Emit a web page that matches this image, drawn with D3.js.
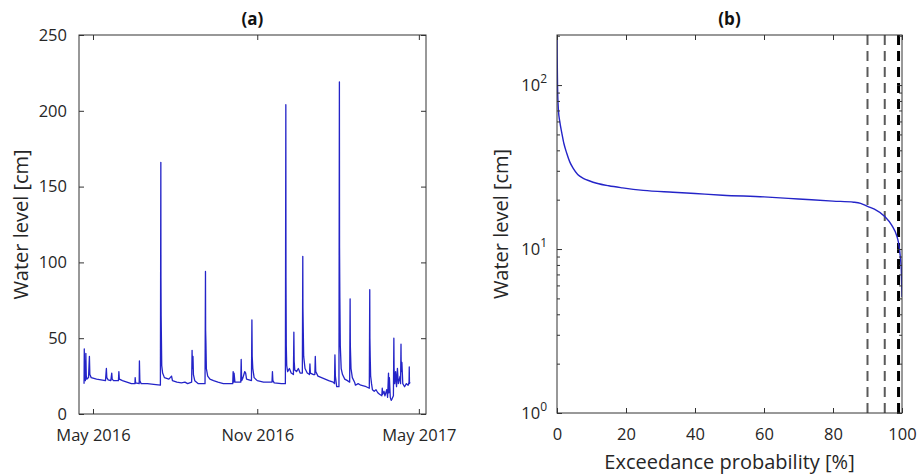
<!DOCTYPE html>
<html>
<head>
<meta charset="utf-8">
<script src="https://cdn.jsdelivr.net/npm/d3@7"></script>
<style>
  html, body { margin: 0; padding: 0; background: #fff; }
  svg { display: block; font-family: "Open Sans", sans-serif; }
</style>
</head>
<body>
<svg id="chart" width="920" height="476"></svg>
<script>
// ---------------- data ----------------
const panelTitles = ["(a)", "(b)"];
const yLabel = "Water level [cm]";
const xLabelB = "Exceedance probability [%]";

// (a) water level time series [time, cm]
const levelSeries = [
  ["2016-04-21 00", 20], ["2016-04-21 06", 43], ["2016-04-21 12", 24], ["2016-04-22 00", 35],
  ["2016-04-22 12", 22], ["2016-04-23 00", 40], ["2016-04-23 12", 25], ["2016-04-24 00", 23],
  ["2016-04-26 00", 24], ["2016-04-27 00", 38], ["2016-04-27 12", 26], ["2016-04-29 00", 24],
  ["2016-05-05 00", 23], ["2016-05-10 00", 22.5], ["2016-05-15 00", 22], ["2016-05-16 00", 30],
  ["2016-05-16 12", 24], ["2016-05-18 00", 22.5], ["2016-05-21 00", 22], ["2016-05-22 00", 27],
  ["2016-05-22 12", 23], ["2016-05-24 00", 22], ["2016-05-29 12", 22], ["2016-05-30 00", 28],
  ["2016-05-30 12", 23], ["2016-06-03 00", 22], ["2016-06-08 00", 21], ["2016-06-13 00", 20],
  ["2016-06-17 00", 20], ["2016-06-17 06", 24], ["2016-06-17 18", 20.5], ["2016-06-21 18", 20],
  ["2016-06-22 00", 35], ["2016-06-22 12", 22], ["2016-06-24 00", 20], ["2016-07-01 00", 20],
  ["2016-07-08 00", 19.5], ["2016-07-15 12", 19], ["2016-07-16 00", 166], ["2016-07-16 03", 90],
  ["2016-07-16 08", 65], ["2016-07-17 00", 32], ["2016-07-18 00", 27], ["2016-07-20 00", 24],
  ["2016-07-25 00", 23], ["2016-07-28 00", 25], ["2016-07-29 00", 22], ["2016-08-03 00", 21],
  ["2016-08-08 00", 20.5], ["2016-08-12 00", 21], ["2016-08-15 00", 20], ["2016-08-19 12", 21],
  ["2016-08-20 00", 42], ["2016-08-20 08", 30], ["2016-08-21 00", 38], ["2016-08-21 12", 26],
  ["2016-08-23 00", 22], ["2016-08-27 00", 20], ["2016-09-03 12", 20], ["2016-09-04 00", 94],
  ["2016-09-04 04", 55], ["2016-09-04 12", 47], ["2016-09-05 00", 30], ["2016-09-06 12", 25],
  ["2016-09-09 00", 23], ["2016-09-13 00", 22], ["2016-09-18 00", 21], ["2016-09-24 00", 20],
  ["2016-10-04 12", 20], ["2016-10-05 00", 28], ["2016-10-05 12", 21], ["2016-10-06 00", 27],
  ["2016-10-07 00", 21], ["2016-10-13 12", 21], ["2016-10-14 00", 36], ["2016-10-14 12", 22],
  ["2016-10-16 00", 24], ["2016-10-18 00", 28], ["2016-10-19 00", 27], ["2016-10-20 00", 23],
  ["2016-10-25 12", 22], ["2016-10-26 00", 62], ["2016-10-26 08", 38], ["2016-10-27 00", 30],
  ["2016-10-28 12", 24], ["2016-11-01 00", 22], ["2016-11-08 00", 21], ["2016-11-17 12", 21],
  ["2016-11-18 00", 28], ["2016-11-18 12", 22], ["2016-11-20 00", 20.5], ["2016-11-28 00", 20],
  ["2016-12-02 12", 20], ["2016-12-03 00", 204], ["2016-12-03 04", 90], ["2016-12-03 12", 45],
  ["2016-12-04 00", 32], ["2016-12-05 00", 28], ["2016-12-07 00", 30], ["2016-12-09 00", 27],
  ["2016-12-11 12", 26], ["2016-12-12 00", 54], ["2016-12-12 08", 35], ["2016-12-13 00", 29],
  ["2016-12-15 00", 28], ["2016-12-17 00", 30], ["2016-12-19 00", 27], ["2016-12-21 12", 27],
  ["2016-12-22 00", 104], ["2016-12-22 04", 70], ["2016-12-22 12", 56], ["2016-12-23 00", 38],
  ["2016-12-24 12", 30], ["2016-12-27 00", 27], ["2016-12-29 12", 26], ["2016-12-30 00", 33],
  ["2016-12-30 12", 27], ["2017-01-03 00", 26], ["2017-01-04 12", 26], ["2017-01-05 00", 38],
  ["2017-01-05 12", 28], ["2017-01-08 00", 25], ["2017-01-12 00", 24], ["2017-01-16 00", 23],
  ["2017-01-20 00", 22], ["2017-01-25 00", 21], ["2017-01-26 12", 20], ["2017-01-27 00", 39],
  ["2017-01-27 12", 25], ["2017-01-29 00", 18], ["2017-01-31 12", 18], ["2017-02-01 00", 219],
  ["2017-02-01 04", 110], ["2017-02-01 12", 77], ["2017-02-02 00", 45], ["2017-02-03 00", 30],
  ["2017-02-04 12", 26], ["2017-02-07 00", 23], ["2017-02-10 00", 22], ["2017-02-12 12", 21],
  ["2017-02-13 00", 76], ["2017-02-13 06", 45], ["2017-02-14 00", 30], ["2017-02-15 12", 24],
  ["2017-02-18 00", 21], ["2017-02-19 00", 19], ["2017-02-22 00", 20], ["2017-02-25 00", 19],
  ["2017-02-28 00", 18.5], ["2017-03-03 00", 18], ["2017-03-06 12", 17], ["2017-03-07 00", 82],
  ["2017-03-07 04", 50], ["2017-03-07 12", 38], ["2017-03-08 00", 25], ["2017-03-09 00", 20],
  ["2017-03-10 00", 16], ["2017-03-12 00", 15], ["2017-03-14 00", 16], ["2017-03-16 00", 14],
  ["2017-03-18 00", 13], ["2017-03-20 12", 12], ["2017-03-21 00", 17], ["2017-03-21 12", 13],
  ["2017-03-23 00", 15], ["2017-03-24 00", 12], ["2017-03-26 00", 16], ["2017-03-27 00", 11],
  ["2017-03-28 00", 27], ["2017-03-28 08", 14], ["2017-03-29 00", 24], ["2017-03-30 00", 11],
  ["2017-03-31 00", 9], ["2017-04-01 00", 10], ["2017-04-02 12", 12], ["2017-04-03 00", 50],
  ["2017-04-03 06", 30], ["2017-04-04 00", 20], ["2017-04-05 00", 28], ["2017-04-06 00", 18],
  ["2017-04-07 00", 30], ["2017-04-08 00", 20], ["2017-04-10 00", 25], ["2017-04-10 12", 20],
  ["2017-04-11 00", 46], ["2017-04-11 06", 28], ["2017-04-12 00", 34], ["2017-04-13 00", 20],
  ["2017-04-15 00", 18], ["2017-04-17 00", 20], ["2017-04-19 00", 19], ["2017-04-20 00", 21],
  ["2017-04-20 06", 31], ["2017-04-20 12", 20], ["2017-04-21 00", 21]
];
const timeDomain = ["2016-04-15 08", "2017-05-09 00"];
const timeTicks = ["2016-05-01 00", "2016-11-01 00", "2017-05-01 00"];
const levelTicks = [0, 50, 100, 150, 200, 250];

// (b) exceedance (flow duration) curve
const exceedance = [0, 0.05, 0.15, 0.4, 0.8, 1.4, 2, 2.8, 3.7, 4.7, 6, 7.6, 9.5, 11.5, 15, 19, 25,
  33.6, 40, 48, 60, 70, 80, 86, 88, 90, 92, 95, 97, 98.5, 99, 99.5, 99.8, 100];
const exceedLevels = [219, 150, 100, 71, 60, 51, 44, 38.5, 34, 31, 28.5, 27, 26, 25.2, 24.3, 23.6, 22.8,
  22.2, 21.8, 21.3, 20.8, 20.2, 19.6, 19.3, 19, 18.2, 17.5, 15.8, 14, 12, 10.9, 9, 7.5, 5.1];
const percentileLines = [90, 95, 99];
const probTicks = [0, 20, 40, 60, 80, 100];
const logMajor = [1, 10, 100];
const logExponents = ["0", "1", "2"];
const logMinor = [2, 3, 4, 5, 6, 7, 8, 9, 20, 30, 40, 50, 60, 70, 80, 90, 200];

// ---------------- drawing ----------------
const svg = d3.select("#chart");
const parse = d3.timeParse("%Y-%m-%d %H");
const axisColor = "#333";
const textColor = "#262626";
const lineColor = "#2424c8";
const tickLen = 5;
const tickFont = 16.5;

const A = { l: 79, r: 426, t: 35, b: 414 };
const B = { l: 557, r: 902, t: 35, b: 413 };

const defs = svg.append("defs");
[["clipA", A], ["clipB", B]].forEach(([id, P]) => {
  defs.append("clipPath").attr("id", id).append("rect")
    .attr("x", P.l).attr("y", P.t).attr("width", P.r - P.l).attr("height", P.b - P.t);
});

function styleAxis(g) {
  g.select(".domain").remove();
  g.selectAll(".tick line").attr("stroke", axisColor);
  g.selectAll(".tick text").attr("fill", textColor).attr("font-size", tickFont)
    .attr("font-family", "'Open Sans', sans-serif");
}

// ---- Panel A ----
const xA = d3.scaleTime().domain(timeDomain.map(parse)).range([A.l, A.r]);
const yA = d3.scaleLinear().domain([0, 250]).range([A.b, A.t]);

const gA = svg.append("g");
gA.append("path")
  .datum(levelSeries.map(d => [parse(d[0]), d[1]]))
  .attr("clip-path", "url(#clipA)")
  .attr("fill", "none").attr("stroke", lineColor).attr("stroke-width", 1.3)
  .attr("stroke-linejoin", "round")
  .attr("d", d3.line().x(d => xA(d[0])).y(d => yA(d[1])));

const tickDates = timeTicks.map(parse);
const fmt = d3.timeFormat("%b %Y");
gA.append("g").attr("transform", `translate(0,${A.b})`)
  .call(d3.axisBottom(xA).tickValues(tickDates).tickFormat(fmt).tickSizeInner(-tickLen).tickSizeOuter(0).tickPadding(15))
  .call(styleAxis);
gA.append("g").attr("transform", `translate(0,${A.t})`)
  .call(d3.axisTop(xA).tickValues(tickDates).tickFormat("").tickSizeInner(-tickLen).tickSizeOuter(0))
  .call(styleAxis);
gA.append("g").attr("transform", `translate(${A.l},0)`)
  .call(d3.axisLeft(yA).tickValues(levelTicks).tickSizeInner(-tickLen).tickSizeOuter(0).tickPadding(12))
  .call(styleAxis);
gA.append("g").attr("transform", `translate(${A.r},0)`)
  .call(d3.axisRight(yA).tickValues(levelTicks).tickFormat("").tickSizeInner(-tickLen).tickSizeOuter(0))
  .call(styleAxis);
gA.append("rect").attr("x", A.l).attr("y", A.t).attr("width", A.r - A.l).attr("height", A.b - A.t)
  .attr("fill", "none").attr("stroke", axisColor).attr("stroke-width", 1);

gA.append("text").attr("x", (A.l + A.r) / 2).attr("y", 25).attr("text-anchor", "middle")
  .attr("font-weight", "bold").attr("font-size", 17).attr("fill", "#111").text(panelTitles[0]);
gA.append("text").attr("transform", `translate(28,${(A.t + A.b) / 2}) rotate(-90)`)
  .attr("text-anchor", "middle").attr("font-size", 20).attr("fill", textColor).text(yLabel);

// ---- Panel B ----
const xB = d3.scaleLinear().domain([0, 100]).range([B.l, B.r]);
const yB = d3.scaleLog().domain([1, 202]).range([B.b, B.t]);

const gB = svg.append("g");
gB.append("g").attr("clip-path", "url(#clipB)").selectAll("line.pct")
  .data(percentileLines).join("line")
  .attr("x1", d => xB(d)).attr("x2", d => xB(d)).attr("y1", B.t).attr("y2", B.b)
  .attr("stroke", (d, i) => i === percentileLines.length - 1 ? "#000" : "#5a5a5a")
  .attr("stroke-width", (d, i) => i === percentileLines.length - 1 ? 3 : 2)
  .attr("stroke-dasharray", "10,6");

gB.append("path")
  .datum(exceedance.map((p, i) => [p, exceedLevels[i]]))
  .attr("clip-path", "url(#clipB)")
  .attr("fill", "none").attr("stroke", lineColor).attr("stroke-width", 1.4)
  .attr("d", d3.line().x(d => xB(d[0])).y(d => yB(d[1])).curve(d3.curveMonotoneX));

gB.append("g").attr("transform", `translate(0,${B.b})`)
  .call(d3.axisBottom(xB).tickValues(probTicks).tickSizeInner(-tickLen).tickSizeOuter(0).tickPadding(15))
  .call(styleAxis);
gB.append("g").attr("transform", `translate(0,${B.t})`)
  .call(d3.axisTop(xB).tickValues(probTicks).tickFormat("").tickSizeInner(-tickLen).tickSizeOuter(0))
  .call(styleAxis);
gB.append("g").attr("transform", `translate(${B.l},0)`)
  .call(d3.axisLeft(yB).tickValues(logMajor).tickFormat("").tickSizeInner(-tickLen).tickSizeOuter(0))
  .call(styleAxis);
gB.append("g").attr("transform", `translate(${B.l},0)`)
  .call(d3.axisLeft(yB).tickValues(logMinor).tickFormat("").tickSizeInner(-3).tickSizeOuter(0))
  .call(styleAxis);
gB.append("g").attr("transform", `translate(${B.r},0)`)
  .call(d3.axisRight(yB).tickValues(logMajor).tickFormat("").tickSizeInner(-tickLen).tickSizeOuter(0))
  .call(styleAxis);
gB.append("g").attr("transform", `translate(${B.r},0)`)
  .call(d3.axisRight(yB).tickValues(logMinor).tickFormat("").tickSizeInner(-3).tickSizeOuter(0))
  .call(styleAxis);

// log tick labels 10^n
const logLabels = gB.append("g");
logMajor.forEach((v, i) => {
  const t = logLabels.append("text").attr("x", B.l - 10).attr("y", yB(v) + 6)
    .attr("text-anchor", "end").attr("font-size", tickFont).attr("fill", textColor);
  t.append("tspan").text("10");
  t.append("tspan").attr("dy", -8).attr("font-size", 12).text(logExponents[i]);
});

gB.append("rect").attr("x", B.l).attr("y", B.t).attr("width", B.r - B.l).attr("height", B.b - B.t)
  .attr("fill", "none").attr("stroke", axisColor).attr("stroke-width", 1);

gB.append("text").attr("x", (B.l + B.r) / 2).attr("y", 25).attr("text-anchor", "middle")
  .attr("font-weight", "bold").attr("font-size", 17).attr("fill", "#111").text(panelTitles[1]);
gB.append("text").attr("transform", `translate(508,${(B.t + B.b) / 2}) rotate(-90)`)
  .attr("text-anchor", "middle").attr("font-size", 20).attr("fill", textColor).text(yLabel);
gB.append("text").attr("x", (B.l + B.r) / 2).attr("y", 469).attr("text-anchor", "middle")
  .attr("font-size", 20).attr("fill", textColor).text(xLabelB);
</script>
</body>
</html>
